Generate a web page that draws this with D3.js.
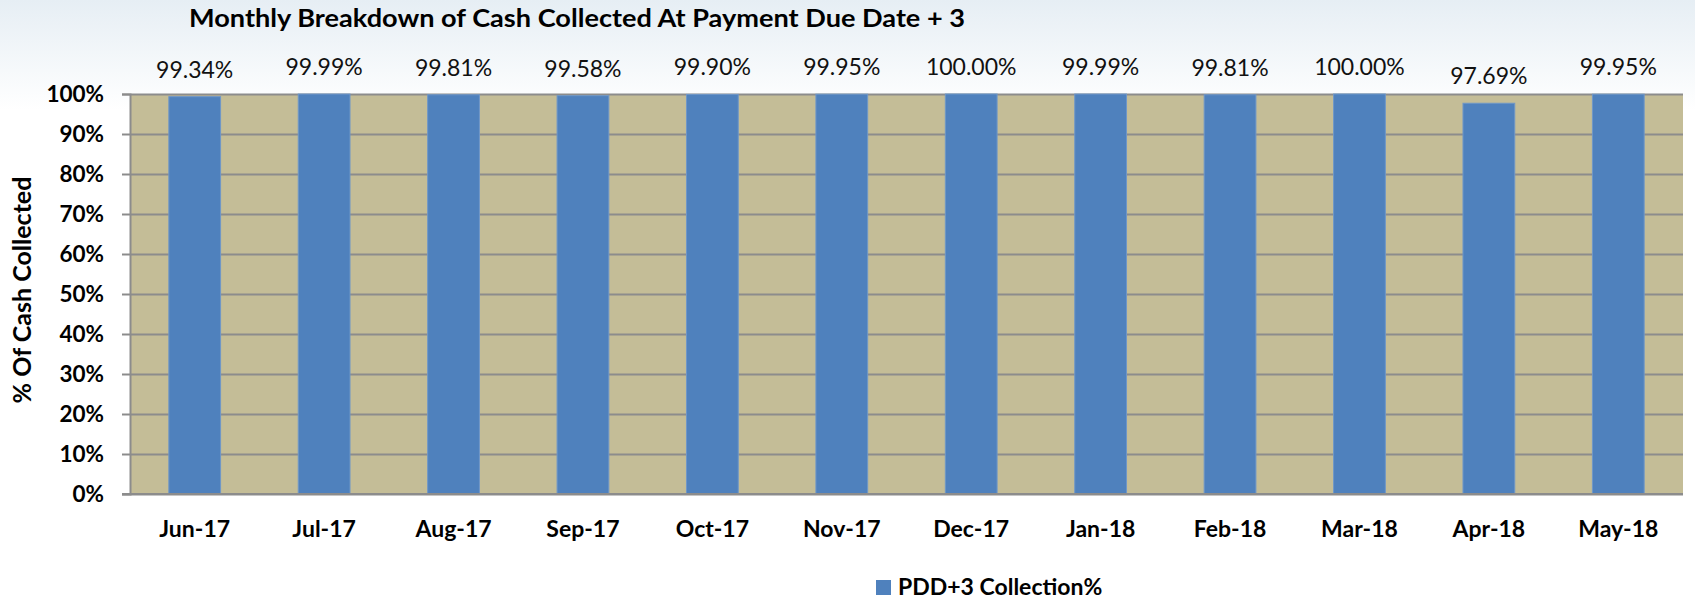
<html>
  <head>
    <script src="https://d3js.org/d3.v7.min.js"></script>
    <style>
      body {
        margin: 0;
        background: #fff;
      }
      text {
        font-family: Lato, "Open Sans", sans-serif;
      }
      .y.axis .domain,
      .y.axis line {
        stroke: #8c8c8c;
        stroke-width: 2;
      }
      .gridlines line {
        stroke: #8c8c8c;
        stroke-width: 2;
      }
      .gridlines .domain {
        stroke: none;
      }
    </style>
  </head>
  <body>
    <svg id="chart" width="1695" height="600"></svg>
    <script>
      // data
      const months = ["Jun-17", "Jul-17", "Aug-17", "Sep-17", "Oct-17", "Nov-17",
        "Dec-17", "Jan-18", "Feb-18", "Mar-18", "Apr-18", "May-18"];
      const collected = [99.34, 99.99, 99.81, 99.58, 99.9, 99.95,
        100.0, 99.99, 99.81, 100.0, 97.69, 99.95];
      const yTicks = [0, 10, 20, 30, 40, 50, 60, 70, 80, 90, 100];
      const seriesName = "PDD+3 Collection%";

      const svg = d3.select("svg#chart");
      const width = +svg.attr("width");
      const height = +svg.attr("height");

      const margins = { top: 94, bottom: 106, left: 130, right: 12 };
      const chartWidth = width - margins.left - margins.right;
      const chartHeight = height - margins.top - margins.bottom;

      // faint bluish wash at the top, like the slide background
      const defs = svg.append("defs");
      const grad = defs.append("linearGradient")
        .attr("id", "bg").attr("x1", 0).attr("y1", 0).attr("x2", 0).attr("y2", 1);
      grad.append("stop").attr("offset", "0%").attr("stop-color", "#e6eef4");
      grad.append("stop").attr("offset", "100%").attr("stop-color", "#ffffff");
      svg.append("rect")
        .attr("width", width).attr("height", 110)
        .attr("fill", "url(#bg)");

      const xScale = d3.scaleBand()
        .domain(months)
        .range([0, chartWidth])
        .paddingInner(0.6)
        .paddingOuter(0.3);

      const yScale = d3.scaleLinear()
        .domain([0, 100])
        .range([chartHeight, 0]);

      const chartArea = svg.append("g")
        .attr("transform", `translate(${margins.left},${margins.top})`);

      // plot background
      chartArea.append("rect")
        .attr("width", chartWidth)
        .attr("height", chartHeight)
        .attr("fill", "#c4bd97");

      // gridlines
      const yGrid = d3.axisLeft(yScale).tickValues(yTicks).tickSize(-chartWidth).tickFormat("");
      chartArea.append("g").attr("class", "y gridlines").call(yGrid);

      // bars
      chartArea.selectAll("rect.bar")
        .data(collected)
        .join("rect")
        .attr("class", "bar")
        .attr("x", (d, i) => xScale(months[i]))
        .attr("y", (d) => yScale(d))
        .attr("width", xScale.bandwidth())
        .attr("height", (d) => chartHeight - yScale(d))
        .attr("fill", "#4f81bd")
        .attr("stroke", "#6f97c8")
        .attr("stroke-width", 1);

      // value labels
      chartArea.selectAll("text.val")
        .data(collected)
        .join("text")
        .attr("class", "val")
        .attr("x", (d, i) => xScale(months[i]) + xScale.bandwidth() / 2)
        .attr("y", (d) => yScale(d) - 19)
        .attr("text-anchor", "middle")
        .attr("font-size", 23)
        .attr("fill", "#111")
        .text((d) => d.toFixed(2) + "%");

      // y axis
      const yAxis = d3.axisLeft(yScale)
        .tickValues(yTicks)
        .tickSize(8)
        .tickPadding(18)
        .tickFormat((d) => d + "%");
      const yG = chartArea.append("g").attr("class", "y axis").call(yAxis);
      yG.selectAll("text")
        .attr("font-size", 22.5)
        .attr("font-weight", "bold")
        .attr("fill", "#000")
        .attr("dy", "0.35em");

      // x baseline
      chartArea.append("line")
        .attr("x1", -8).attr("x2", chartWidth)
        .attr("y1", chartHeight).attr("y2", chartHeight)
        .attr("stroke", "#8c8c8c").attr("stroke-width", 2);

      // x labels
      chartArea.selectAll("text.xlab")
        .data(months)
        .join("text")
        .attr("class", "xlab")
        .attr("x", (d) => xScale(d) + xScale.bandwidth() / 2)
        .attr("y", chartHeight + 35)
        .attr("dy", "0.35em")
        .attr("text-anchor", "middle")
        .attr("font-size", 23)
        .attr("font-weight", "bold")
        .text((d) => d);

      // y axis title
      svg.append("text")
        .attr("transform", `translate(22,${margins.top + chartHeight / 2 - 4}) rotate(-90)`)
        .attr("text-anchor", "middle")
        .attr("dy", "0.35em")
        .attr("font-size", 25)
        .attr("font-weight", "bold")
        .text("% Of Cash Collected");

      // chart title
      svg.append("text")
        .attr("x", 189)
        .attr("y", 27)
        .attr("font-size", 25)
        .attr("font-weight", "bold")
        .attr("textLength", 776)
        .attr("lengthAdjust", "spacingAndGlyphs")
        .text("Monthly Breakdown of Cash Collected At Payment Due Date + 3");

      // legend
      const legend = svg.append("g").attr("transform", "translate(876,580)");
      legend.append("rect")
        .attr("width", 15).attr("height", 15)
        .attr("fill", "#4f81bd");
      legend.append("text")
        .attr("x", 22)
        .attr("y", 7)
        .attr("dy", "0.35em")
        .attr("font-size", 23)
        .attr("font-weight", "bold")
        .text(seriesName);
    </script>
  </body>
</html>
